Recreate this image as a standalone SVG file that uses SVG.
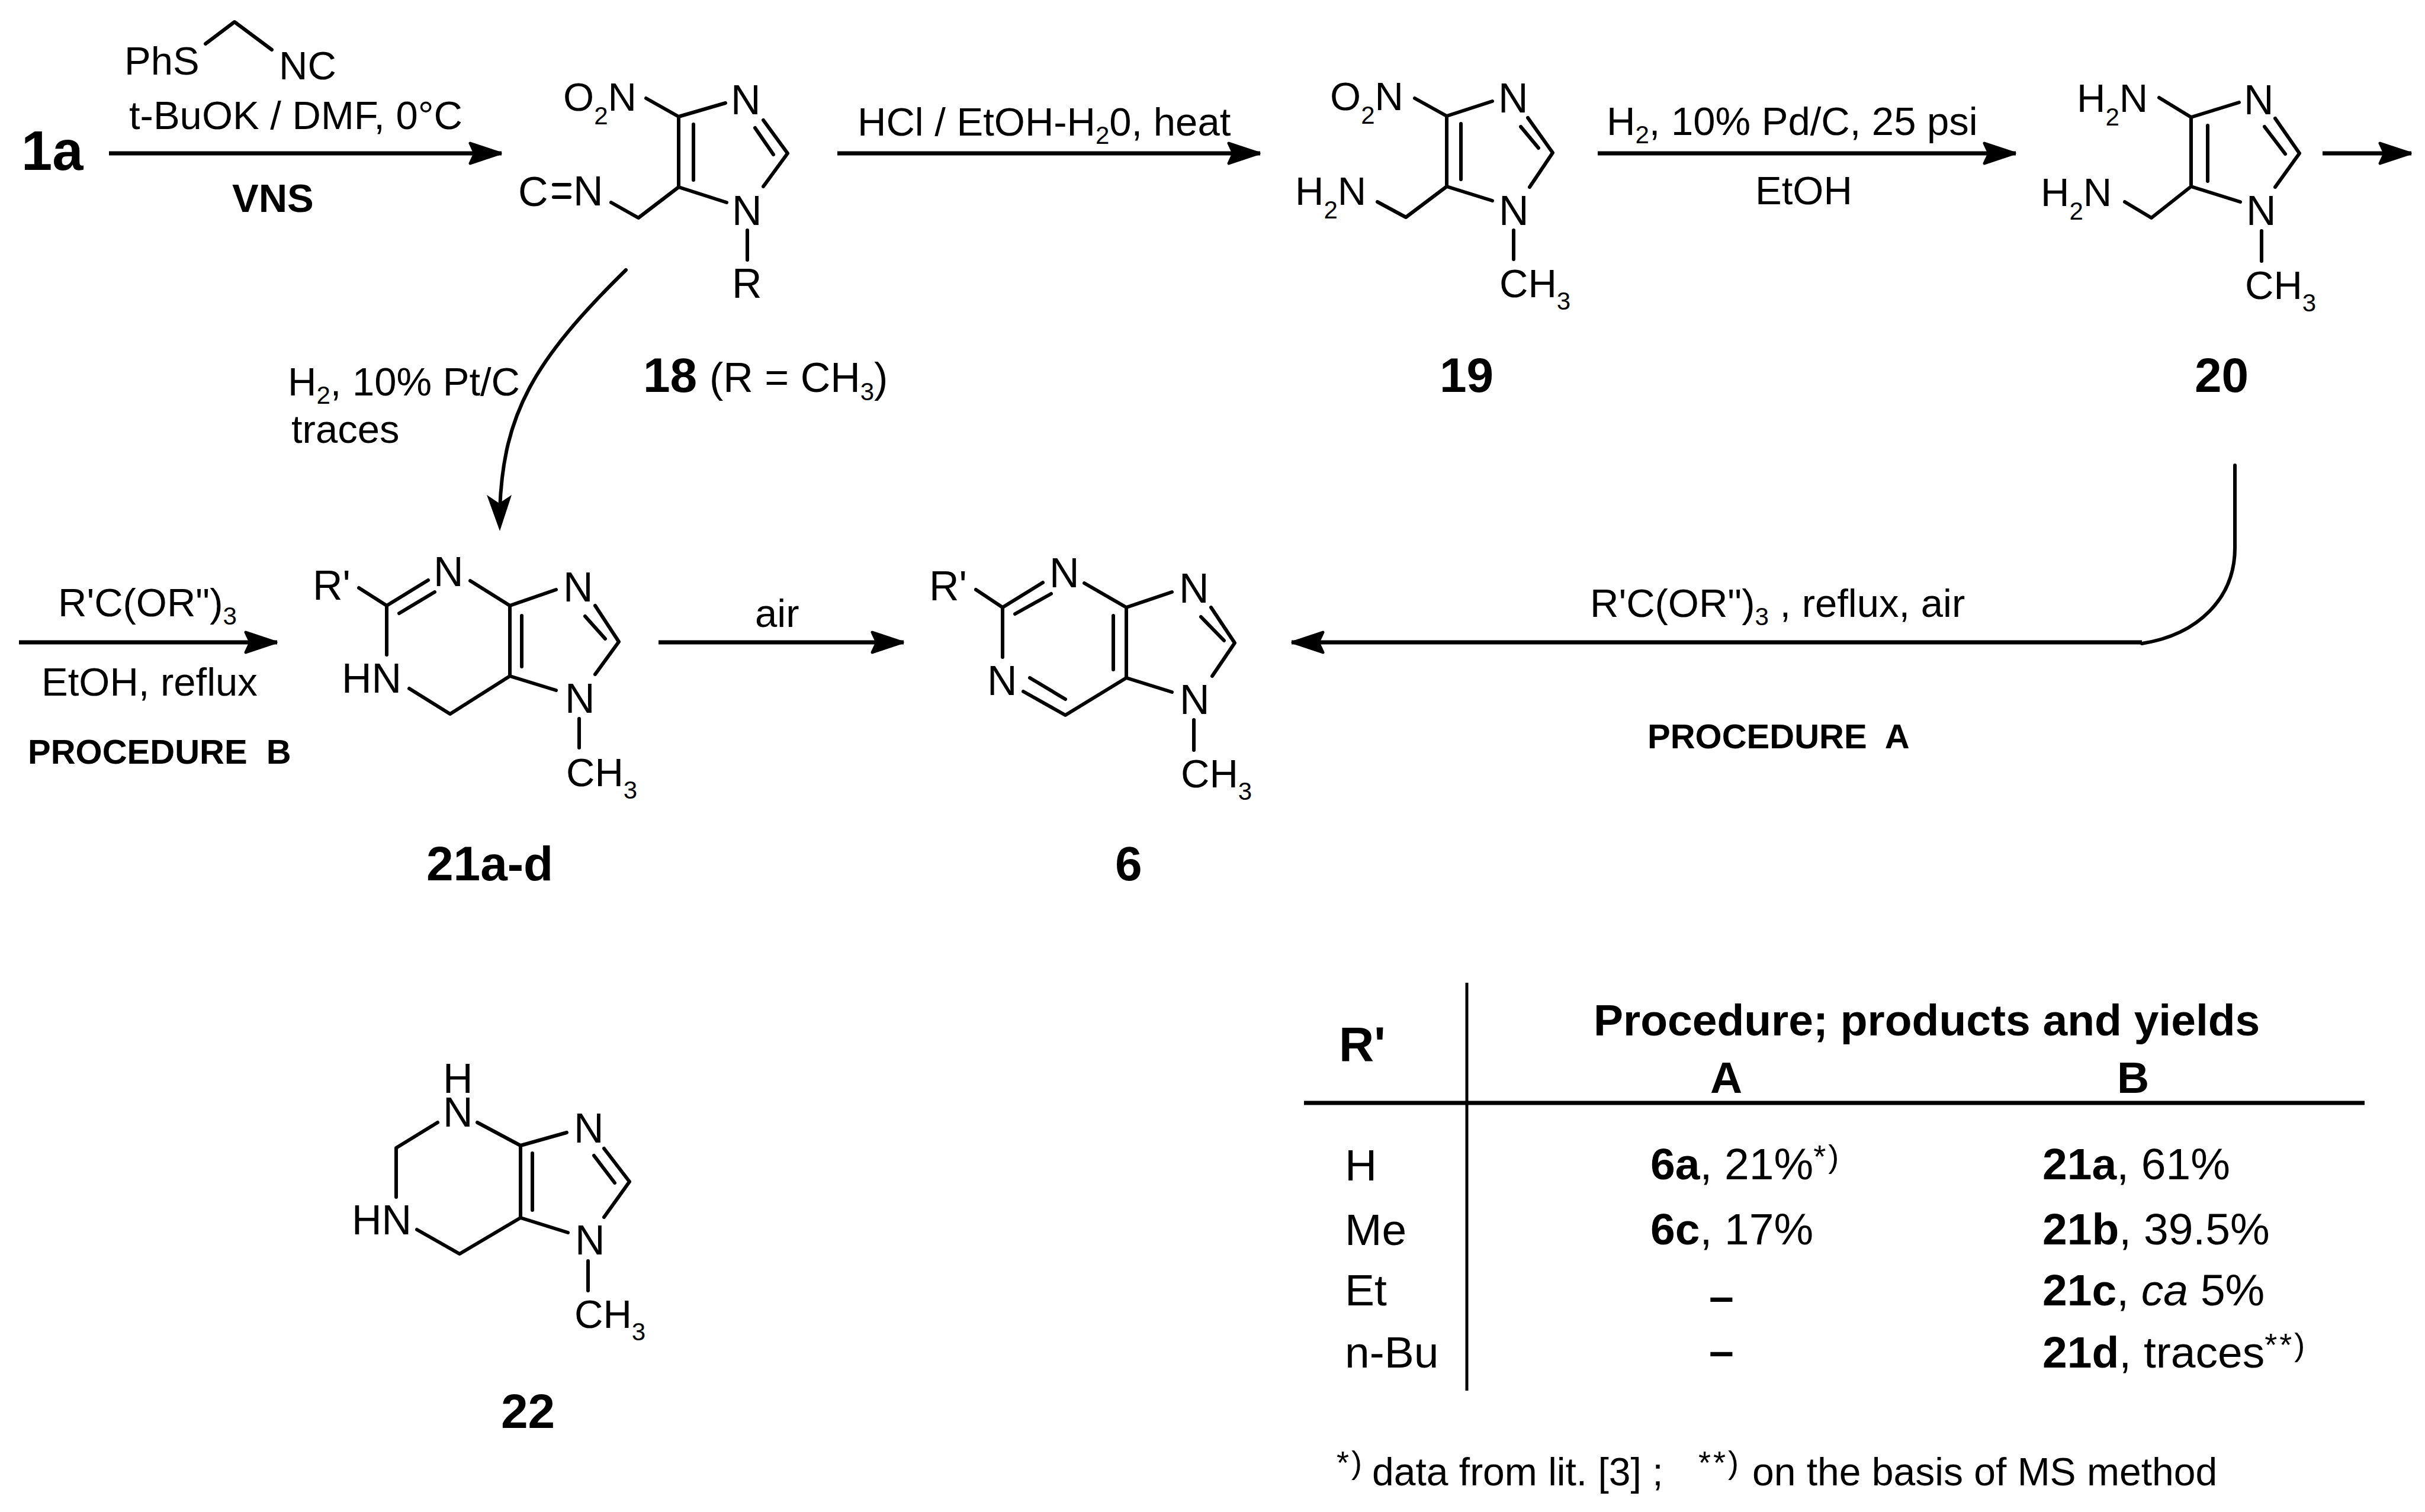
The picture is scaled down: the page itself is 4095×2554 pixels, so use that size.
<svg xmlns="http://www.w3.org/2000/svg" width="4095" height="2554" viewBox="0 0 4095 2554">
<defs>
<marker id="ah" markerUnits="userSpaceOnUse" markerWidth="60" markerHeight="44" refX="56" refY="21" orient="auto"><path d="M3,4 L54,21 L3,38 L11,21 Z" fill="#000" stroke="#000" stroke-width="5" stroke-linejoin="round"/></marker>
</defs>
<style>
text{font-family:"Liberation Sans",Arial,sans-serif;font-size:67px;fill:#000}
.m{font-size:70px}
.f{font-size:66px}
.t{font-size:75px}
.h{font-size:75px;font-weight:bold}
.l{font-size:82px;font-weight:bold}
.p{font-size:58px;font-weight:bold}
.b{font-weight:bold}
.s{font-size:42px}
.u{font-size:54px}
.bond{fill:none;stroke:#000;stroke-width:6;stroke-linecap:round;stroke-linejoin:round}
.arrow{fill:none;stroke:#000;stroke-width:7;marker-end:url(#ah)}
.rule{fill:none;stroke:#000}
</style>
<rect width="4095" height="2554" fill="#fff"/>
<g id="connectors">
<path class="arrow" d="M184,259H847"/>
<path class="arrow" d="M1414,259H2128"/>
<path class="arrow" d="M2698,259H3404"/>
<path class="arrow" d="M3922,259H4072"/>
<path class="bond" d="M1057,456C900,610 850,700 844,860"/>
<path d="M844,897L822,836L843,850L864,836Z" fill="#000"/>
<path class="arrow" d="M32,1085H468"/>
<path class="arrow" d="M1112,1085H1526"/>
<path class="bond" d="M3774,786V923C3775,1010 3712,1072 3617,1087"/>
<path class="arrow" d="M3617,1085H2181"/>
</g>
<g id="reagents">
<g id="vns-reagent">
<path class="bond" d="M347,74L396,37L459,84"/>
<text x="210" y="126">PhS</text>
<text x="471" y="134">NC</text>
<text x="218" y="218">t-BuOK / DMF, 0°C</text>
<text class="b" x="392" y="358">VNS</text>
</g>
<text x="1448" y="229">HCl / EtOH-H<tspan class="s" dy="14">2</tspan><tspan dy="-14">0, heat</tspan></text>
<text x="2713" y="228">H<tspan class="s" dy="14">2</tspan><tspan dy="-14">, 10% Pd/C, 25 psi</tspan></text>
<text x="2964" y="345">EtOH</text>
<text x="486" y="668">H<tspan class="s" dy="14">2</tspan><tspan dy="-14">, 10% Pt/C</tspan></text>
<text x="492" y="748">traces</text>
<text x="98" y="1041">R'C(OR")<tspan class="s" dy="14">3</tspan></text>
<text x="70" y="1175">EtOH, reflux</text>
<text class="p" x="47" y="1290" xml:space="preserve">PROCEDURE  B</text>
<text x="1275" y="1059">air</text>
<text x="2685" y="1042">R'C(OR")<tspan class="s" dy="14">3</tspan><tspan dy="-14"> , reflux, air</tspan></text>
<text class="p" x="2782" y="1264" xml:space="preserve">PROCEDURE  A</text>
</g>
<g id="n1a"><text class="l" x="36" y="287" style="font-size:94px">1a</text></g>
<g id="n18" transform="translate(0,1)">
<path class="bond" d="M1146,196L1225,173M1091,165L1146,196V315L1227,341M1289,202L1330,258L1289,314M1275,215L1306,260M1171,209V303M1146,315L1078,367L1032,341M1262,388V438"/>
<path class="bond" d="M935,311H962M935,332H962"/>
<text x="951" y="186">O<tspan class="s" dy="23">2</tspan><tspan dy="-23">N</tspan></text>
<text class="m" x="1234" y="192">N</text>
<text class="m" x="1236" y="379">N</text>
<text class="m" x="1236" y="502">R</text>
<text class="m" x="875" y="347">C</text>
<text class="m" x="968" y="346">N</text>
</g>
<g id="l18"><text class="l" x="1086" y="662">18</text><text x="1198" y="662" style="font-size:70px">(R = CH<tspan class="s" dy="14">3</tspan><tspan dy="-14">)</tspan></text></g>
<g id="n19">
<path class="bond" d="M2389,166L2443,196L2520,171M2443,196V315L2520,339M2580,199L2622,258L2583,316M2568,214L2598,250M2467,209V303M2443,315L2374,367L2326,341M2556,389V438"/>
<text x="2246" y="186">O<tspan class="s" dy="23">2</tspan><tspan dy="-23">N</tspan></text>
<text class="m" x="2530" y="190">N</text>
<text class="m" x="2531" y="380">N</text>
<text x="2187" y="346">H<tspan class="s" dy="23">2</tspan><tspan dy="-23">N</tspan></text>
<text x="2532" y="502">CH<tspan class="s" dy="21">3</tspan></text>
</g>
<g id="l19"><text class="l" x="2431" y="662">19</text></g>
<g id="n20">
<path class="bond" d="M3646,165L3700,198L3781,173M3700,198V315L3783,341M3842,200L3883,259L3842,316M3824,214L3859,260M3728,212V306M3700,315L3633,368L3588,341M3819,390V441"/>
<text x="3507" y="189">H<tspan class="s" dy="23">2</tspan><tspan dy="-23">N</tspan></text>
<text x="3446" y="348">H<tspan class="s" dy="23">2</tspan><tspan dy="-23">N</tspan></text>
<text class="m" x="3789" y="193">N</text>
<text class="m" x="3793" y="380">N</text>
<text x="3791" y="505">CH<tspan class="s" dy="21">3</tspan></text>
</g>
<g id="l20"><text class="l" x="3706" y="662">20</text></g>
<g id="n21" transform="translate(-3,0)">
<path class="bond" d="M609,993L656,1023L726,980M677,1036L737,1000M656,1023V1106M694,1163L763,1206L864,1142M797,981L864,1023L942,996M864,1023V1142L942,1166M884,1040V1126M1008,1023L1048,1084L1008,1139M991,1041L1025,1079M981,1214V1263"/>
<text class="m" x="531" y="1013">R'</text>
<text class="m" x="735" y="990">N</text>
<text class="m" x="954" y="1016">N</text>
<text class="m" x="957" y="1204">N</text>
<text class="m" x="580" y="1170">HN</text>
<text x="959" y="1328">CH<tspan class="s" dy="21">3</tspan></text>
</g>
<g id="l21"><text class="l" x="720" y="1487">21a-d</text></g>
<g id="n6" transform="translate(-9,0)">
<path class="bond" d="M1657,996L1702,1026L1770,984M1723,1037L1784,1003M1702,1026V1110M1737,1168L1808,1208L1911,1145M1748,1145L1808,1181M1840,985L1911,1026L1988,1000M1911,1026V1145L1988,1169M1889,1040V1131M2054,1026L2094,1086L2056,1142M2037,1042L2076,1082M2025,1216V1267"/>
<text class="m" x="1578" y="1014">R'</text>
<text class="m" x="1781" y="992">N</text>
<text class="m" x="1676" y="1174">N</text>
<text class="m" x="2000" y="1018">N</text>
<text class="m" x="2001" y="1206">N</text>
<text x="2003" y="1330">CH<tspan class="s" dy="21">3</tspan></text>
</g>
<g id="l6"><text class="l" x="1883" y="1487">6</text></g>
<g id="n22">
<path class="bond" d="M739,1896L669,1939V2022M704,2077L776,2118L879,2057M806,1896L879,1935L957,1913M879,1935V2057L959,2082M899,1948V2044M1020,1940L1063,1996L1020,2056M1003,1952L1038,1998M993,2130V2180"/>
<text class="m" x="748" y="1846">H<tspan x="748" y="1903">N</tspan></text>
<text class="m" x="594" y="2085">HN</text>
<text class="m" x="969" y="1930">N</text>
<text class="m" x="971" y="2119">N</text>
<text x="970" y="2243">CH<tspan class="s" dy="21">3</tspan></text>
</g>
<g id="l22"><text class="l" x="846" y="2412">22</text></g>
<g id="table">
<path class="rule" stroke-width="5" d="M2477,1660V2349"/>
<path class="rule" stroke-width="7" d="M2202,1863H3993"/>
<text class="l" x="2261" y="1792">R'</text>
<text class="h" x="2691" y="1749">Procedure; products and yields</text>
<text class="h" x="2888" y="1846">A</text>
<text class="h" x="3575" y="1846">B</text>
<text class="t" x="2271" y="1994">H</text>
<text class="t" x="2271" y="2103">Me</text>
<text class="t" x="2271" y="2205">Et</text>
<text class="t" x="2271" y="2310">n-Bu</text>
<text class="t" x="2787" y="1992"><tspan class="b">6a</tspan>, 21%<tspan class="u" dy="-20" letter-spacing="4">*)</tspan></text>
<text class="t" x="2787" y="2102"><tspan class="b">6c</tspan>, 17%</text>
<text class="t" x="2886" y="2215" font-weight="bold">–</text>
<text class="t" x="2886" y="2307" font-weight="bold">–</text>
<text class="t" x="3449" y="1992"><tspan class="b">21a</tspan>, 61%</text>
<text class="t" x="3449" y="2102"><tspan class="b">21b</tspan>, 39.5%</text>
<text class="t" x="3449" y="2205"><tspan class="b">21c</tspan>, <tspan font-style="italic">ca</tspan> 5%</text>
<text class="t" x="3449" y="2310"><tspan class="b">21d</tspan>, traces<tspan class="u" dy="-20" letter-spacing="4">**)</tspan></text>
<text class="f" x="2257" y="2509"><tspan class="u" dy="-20" letter-spacing="4">*)</tspan><tspan x="2317" y="2509">data from lit. [3] ;</tspan><tspan class="u" x="2868" y="2489" letter-spacing="4">**)</tspan><tspan x="2959" y="2509">on the basis of MS method</tspan></text>
</g>
</svg>
